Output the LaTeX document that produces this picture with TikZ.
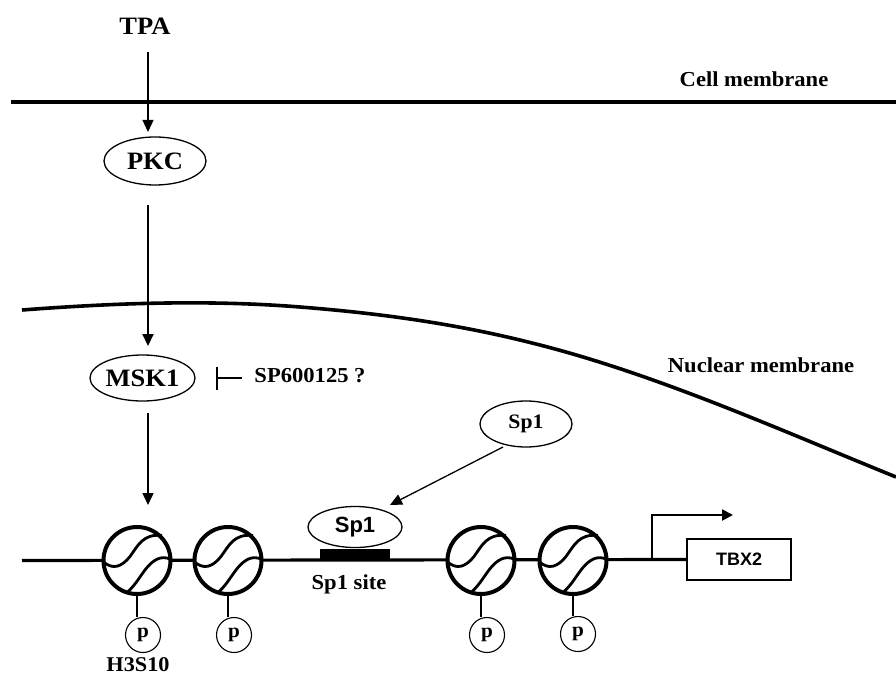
\documentclass[tikz,border=0pt]{standalone}
\usepackage{fontspec}
\setmainfont[FakeStretch=1.06]{Liberation Serif}
\newfontfamily\arialb{Liberation Sans Bold}
\usetikzlibrary{shapes.geometric,arrows.meta}
\newcommand{\fs}[1]{\fontsize{#1}{#1}\selectfont}
\tikzset{
  x=1pt,y=-1pt,
  lbl/.style={inner sep=0pt,font=\fs{21.3}\bfseries},
  big/.style={font=\fs{25}\bfseries},
  oval/.style={ellipse,draw,line width=1.3pt,fill=white,inner sep=0pt,minimum width=#1},
  nuc/.style={circle,draw,line width=4pt,fill=white,minimum size=67pt,inner sep=0pt},
  phos/.style={circle,draw,line width=1.1pt,fill=white,minimum size=35pt,inner sep=0pt,font=\fs{20}\bfseries},
  stem/.style={line width=1.2pt},
  arr/.style={line width=#1,-{Stealth[length=12pt,width=11pt,inset=0pt]}},
  memb/.style={line width=3.6pt},
  dna/.style={line width=3.2pt},
}
\newcommand{\nucl}[3]{%
  \node[nuc] (#1) at (#2,#3) {};
  \draw[line width=2.8pt] (#2-34,#3+1) .. controls (#2-24,#3+10) and (#2-15,#3+6) .. (#2-7,#3-4)
     .. controls (#2+1,#3-15) and (#2+6,#3-27) .. (#2+25,#3-25);
  \draw[line width=2.8pt] (#2-9,#3+31) .. controls (#2-1,#3+24) and (#2+4,#3+14) .. (#2+10,#3+7)
     .. controls (#2+16,#3) and (#2+24,#3-6) .. (#2+34,#3-1);
}
\begin{document}
\begin{tikzpicture}
\useasboundingbox (0,0) rectangle (896,676);
% membranes
\coordinate (cmL) at (11,102);
\coordinate (cmR) at (896,102);
\draw[memb] (cmL) -- (cmR);
\draw[memb] (22,310) .. controls (115,303) and (207,299.6) .. (300,307)
  .. controls (376,313) and (452,323) .. (528,342)
  .. controls (651,372) and (773,427) .. (896,477);
\node[lbl] (cell) at (754,79) {Cell membrane};
\node[lbl] (nuclear) at (761,365) {Nuclear membrane};
% signalling
\node[lbl,big] (tpa) at (145,26) {TPA};
\node[oval=102pt,minimum height=48pt,big] (pkc) at (155,161) {PKC};
\node[oval=105pt,minimum height=46pt,big] (msk) at (142.5,378) {MSK1};
\coordinate (t1) at (148,52);
\coordinate (t2) at (148,132);
\coordinate (p1) at (148,205);
\coordinate (p2) at (148,346);
\coordinate (m1) at (148,413);
\coordinate (m2) at (148,505);
\draw[arr=1.3pt] (t1) -- (t2);
\draw[arr=2.2pt] (p1) -- (p2);
\draw[arr=1.5pt] (m1) -- (m2);
% inhibitor
\node[lbl] (sp6) at (310,376) {SP600125 ?};
\coordinate (ih) at (217,378);
\coordinate (ie) at (242,378);
\draw[line width=1.2pt] (ih) -- (ie);
\draw[line width=1.2pt] (217,367) -- (217,390);
% DNA
\coordinate (dnaL) at (22,560.5);
\node[draw,line width=1.3pt,fill=white,minimum width=104pt,minimum height=41pt,inner sep=0pt,font=\arialb\fs{18}] (tbx) at (739,559.5) {TBX2};
\draw[dna] (dnaL) -- (tbx.west);
\coordinate (prom) at (652,560);
\coordinate (promtop) at (652,515);
\coordinate (promend) at (733,515);
\draw[line width=2.2pt,-{Stealth[length=11pt,width=11pt,inset=0pt]}] (prom) -- (promtop) -- (promend);
% Sp1
\node[oval=92pt,minimum height=46pt,font=\fs{20.5}\bfseries] (sp1a) at (526,424) {Sp1};
\node[fill=black,minimum width=70pt,minimum height=12pt,inner sep=0pt] (site) at (355,555) {};
\node[oval=94pt,minimum height=41pt,font=\arialb\fs{22}] (sp1b) at (355,527) {Sp1};
\coordinate (s1) at (503,447);
\coordinate (s2) at (390,505);
\draw[arr=1.3pt] (s1) -- (s2);
\node[lbl] (sitel) at (349,584) {Sp1 site};
% nucleosomes
\nucl{n1}{137}{560.5}
\nucl{n2}{228}{560.5}
\nucl{n3}{481}{560.5}
\nucl{n4}{573}{560.5}
\node[phos] (pa) at (143,635) {p};
\node[phos] (pb) at (234,635) {p};
\node[phos] (pc) at (487,635) {p};
\node[phos] (pd) at (578,634) {p};
\draw[stem] (n1.south) -- (n1.south |- pa.north);
\draw[stem] (n2.south) -- (n2.south |- pb.north);
\draw[stem] (n3.south) -- (n3.south |- pc.north);
\draw[stem] (n4.south) -- (n4.south |- pd.north);
\node[lbl,font=\fs{21}\bfseries] (h3) at (138,664.5) {H3S10};
\end{tikzpicture}
\end{document}
